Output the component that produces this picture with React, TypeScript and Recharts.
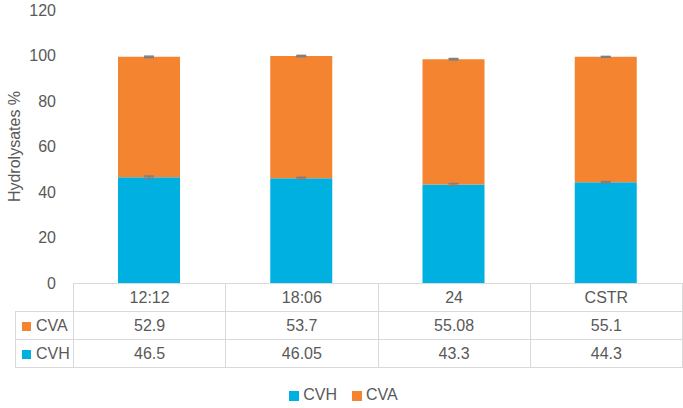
import { BarChart, Bar, XAxis, YAxis, Legend, ErrorBar } from 'recharts';

const categories = ['12:12', '18:06', '24', 'CSTR'];
const cvh = [46.5, 46.05, 43.3, 44.3];
const cva = [52.9, 53.7, 55.08, 55.1];
const cvhErr = [0.5, 0.4, 0.4, 0.3];
const cvaErr = [0.3, 0.3, 0.3, 0.2];
const yTicks = [0, 20, 40, 60, 80, 100, 120];
const seriesOrder = ['CVH', 'CVA'];

const BLUE = '#00b0e0';
const ORANGE = '#f58431';
const TEXT = '#595959';
const LINE = '#d9d9d9';
const FONT = '"Liberation Sans", Arial, sans-serif';

const data = categories.map((name, i) => ({
  name,
  CVH: cvh[i],
  CVA: cva[i],
  cvhErr: cvhErr[i],
  cvaErr: cvaErr[i],
}));

const tableRows = [
  { label: 'CVA', color: ORANGE, values: cva },
  { label: 'CVH', color: BLUE, values: cvh },
];

const cell: React.CSSProperties = {
  border: `1px solid ${LINE}`,
  height: 27,
  padding: 0,
  textAlign: 'center',
  color: TEXT,
  fontSize: 16,
};

function DataTable() {
  return (
    <table
      style={{
        position: 'absolute',
        left: 15,
        top: 283,
        width: 668,
        borderCollapse: 'collapse',
        tableLayout: 'fixed',
        fontFamily: FONT,
      }}
    >
      <colgroup>
        <col style={{ width: 58 }} />
        {categories.map((c) => (
          <col key={c} />
        ))}
      </colgroup>
      <tbody>
        <tr>
          <td style={{ ...cell, border: 'none' }} />
          {categories.map((c) => (
            <td key={c} style={cell}>{c}</td>
          ))}
        </tr>
        {tableRows.map((row) => (
          <tr key={row.label}>
            <td style={{ ...cell, textAlign: 'left', paddingLeft: 6 }}>
              <span
                style={{
                  display: 'inline-block',
                  width: 9,
                  height: 9,
                  background: row.color,
                  marginRight: 5,
                }}
              />
              {row.label}
            </td>
            {row.values.map((v, i) => (
              <td key={categories[i]} style={cell}>{v}</td>
            ))}
          </tr>
        ))}
      </tbody>
    </table>
  );
}

export default function App() {
  return (
    <div style={{ position: 'absolute', left: 0, top: 0, width: 683, height: 408, background: '#fff', fontFamily: FONT }}>
      <BarChart width={683} height={408} data={data} margin={{ top: 10, right: 1, left: 0, bottom: 107 }}>
        <XAxis dataKey="name" hide />
        <YAxis
          width={73}
          domain={[0, 120]}
          ticks={yTicks}
          axisLine={false}
          tickLine={false}
          tickMargin={11}
          tick={{ fill: TEXT, fontSize: 16, fontFamily: FONT }}
          label={({ viewBox }: any) => (
            <text
              x={14}
              y={viewBox.y + viewBox.height / 2}
              transform={`rotate(-90, 14, ${viewBox.y + viewBox.height / 2})`}
              textAnchor="middle"
              dominantBaseline="central"
              fill={TEXT}
              fontSize={16}
              fontFamily={FONT}
            >
              Hydrolysates %
            </text>
          )}
        />
        <Legend
          verticalAlign="bottom"
          iconType="square"
          iconSize={10}
          itemSorter={(item: any) => seriesOrder.indexOf(item.value)}
          wrapperStyle={{ top: 386, left: 10, bottom: 'auto', fontSize: 16, fontFamily: FONT }}
          formatter={(v: string) => <span style={{ color: TEXT, marginRight: 5 }}>{v}</span>}
        />
        <Bar dataKey="CVH" stackId="a" fill={BLUE} barSize={62} isAnimationActive={false}>
          <ErrorBar dataKey="cvhErr" width={5} stroke="#7f7f7f" strokeWidth={1.5} direction="y" />
        </Bar>
        <Bar dataKey="CVA" stackId="a" fill={ORANGE} barSize={62} isAnimationActive={false}>
          <ErrorBar dataKey="cvaErr" width={5} stroke="#7f7f7f" strokeWidth={1.5} direction="y" />
        </Bar>
      </BarChart>
      <DataTable />
    </div>
  );
}
